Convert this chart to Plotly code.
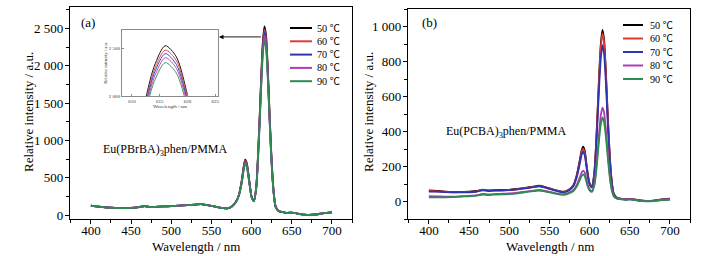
import plotly.graph_objects as go

W, H = 709, 256

# ---------------- data ----------------
wavelength = [400, 410, 420, 430, 440, 450, 460, 467, 474, 480, 490, 500, 510, 520, 530, 537, 545, 555,
              565, 570, 575, 580, 584, 588, 590, 592, 594, 596, 598, 600, 603, 606, 608, 610, 612, 614,
              616, 618, 620, 622, 624, 626, 628, 630, 634, 640, 645, 650, 655, 660, 670, 680, 690, 700]

temps = ["50 ℃", "60 ℃", "70 ℃", "80 ℃", "90 ℃"]
colors = ["#000000", "#e53935", "#2f35b0", "#b03ab8", "#2e8b4e"]

base_a = [130, 115, 104, 98, 96, 100, 110, 122, 108, 112, 118, 122, 128, 135, 143, 150, 135, 115,
          95, 92, 115, 170, 260]
tail_a = [55, 40, 32, 35, 28, 15, 5, 10, 28, 40]

a_50 = base_a + [480, 640, 745, 700, 560, 390, 250, 190, 400, 800, 1300, 1850, 2310, 2527, 2410, 2010, 1470, 950, 530, 260, 115] + tail_a
a_60 = base_a + [470, 628, 730, 688, 550, 385, 248, 190, 395, 790, 1280, 1820, 2270, 2482, 2370, 1975, 1445, 935, 520, 255, 113] + tail_a
a_70 = base_a + [462, 617, 715, 675, 540, 380, 246, 189, 390, 775, 1260, 1790, 2235, 2444, 2330, 1945, 1420, 920, 515, 252, 112] + tail_a
a_80 = base_a + [455, 608, 705, 665, 532, 375, 244, 188, 385, 765, 1240, 1760, 2195, 2402, 2290, 1910, 1400, 905, 505, 248, 110] + tail_a
a_90 = base_a + [445, 595, 690, 650, 520, 368, 240, 186, 378, 745, 1210, 1720, 2150, 2350, 2240, 1870, 1370, 885, 495, 243, 108] + tail_a

b_50 = [63, 60, 57, 55, 55, 56, 60, 68, 63, 65, 66, 67, 72, 78, 85, 90, 82, 68, 57, 58, 70, 95, 150, 240, 290, 314, 290, 220, 150, 105, 85,
        170, 320, 520, 730, 900, 981, 930, 770, 560, 360, 200, 100, 45, 22, 15, 13, 15, 12, 8, 3, 5, 12, 16]
b_60 = [60, 58, 56, 53, 54, 55, 58, 66, 61, 63, 64, 66, 70, 76, 83, 88, 80, 66, 56, 57, 68, 92, 145, 230, 278, 300, 278, 212, 145, 102, 83,
        166, 310, 508, 715, 880, 960, 910, 755, 548, 352, 196, 98, 44, 22, 15, 13, 15, 12, 8, 3, 5, 12, 15]
b_70 = [57, 56, 54, 52, 52, 53, 57, 64, 60, 62, 63, 65, 69, 75, 82, 87, 79, 65, 54, 55, 66, 88, 138, 220, 265, 285, 265, 202, 140, 98, 80,
        155, 290, 472, 665, 820, 893, 846, 705, 512, 330, 185, 92, 42, 20, 14, 12, 14, 11, 7, 2, 4, 11, 14]
b_80 = [30, 29, 28, 28, 30, 32, 36, 44, 40, 42, 44, 46, 50, 56, 62, 66, 60, 50, 42, 43, 52, 66, 95, 140, 165, 177, 165, 128, 92, 70, 60,
        100, 178, 285, 400, 493, 537, 510, 428, 315, 205, 118, 62, 32, 17, 13, 11, 13, 10, 6, 2, 4, 10, 12]
b_90 = [24, 24, 24, 25, 28, 30, 34, 40, 37, 39, 41, 43, 47, 53, 59, 63, 57, 47, 39, 40, 48, 60, 85, 125, 145, 155, 145, 113, 82, 64, 55,
        92, 160, 258, 360, 442, 480, 456, 385, 285, 187, 108, 58, 30, 16, 12, 10, 12, 9, 5, 1, 3, 8, 10]

series_a = [a_50, a_60, a_70, a_80, a_90]
series_b = [b_50, b_60, b_70, b_80, b_90]

x_ticks = [400, 450, 500, 550, 600, 650, 700]
ya_ticks = [0, 500, 1000, 1500, 2000, 2500]
ya_text = ["0", "500", "1 000", "1 500", "2 000", "2 500"]
yb_ticks = [0, 200, 400, 600, 800, 1000]
yb_text = ["0", "200", "400", "600", "800", "1 000"]
inset_x_ticks = [610, 615, 620, 625]
inset_y_ticks = [2000, 2500]
inset_y_text = ["2 000", "2 500"]

# ---------------- helpers ----------------
def px(x):
    return x / W


def py(y):
    return 1 - y / H

FONT = "Liberation Serif, 'Noto Sans CJK SC'"

fig = go.Figure()
for name, col, ya in zip(temps, colors, series_a):
    fig.add_trace(go.Scatter(x=wavelength, y=ya, mode="lines", name=name, showlegend=False,
                             line=dict(color=col, width=1.8, shape="spline", smoothing=0.6),
                             xaxis="x", yaxis="y"))
for name, col, yb in zip(temps, colors, series_b):
    fig.add_trace(go.Scatter(x=wavelength, y=yb, mode="lines", name=name, showlegend=False,
                             line=dict(color=col, width=1.8, shape="spline", smoothing=0.6),
                             xaxis="x2", yaxis="y2"))
for name, col, ya in zip(temps, colors, series_a):
    fig.add_trace(go.Scatter(x=wavelength, y=ya, mode="lines", name=name, showlegend=False,
                             line=dict(color=col, width=0.9, shape="spline", smoothing=0.8),
                             xaxis="x3", yaxis="y3"))

axis_common = dict(showline=True, linecolor="black", linewidth=1.2, mirror=True, showgrid=False,
                   zeroline=False, ticks="outside", ticklen=4, tickwidth=1, tickcolor="black", automargin=False,
                   tickfont=dict(family=FONT, size=13, color="black"))
minor_x = dict(dtick=25, ticks="outside", ticklen=2.5, tickcolor="black", showgrid=False)
inset_common = dict(showline=True, linecolor="#8a8a8a", linewidth=1, mirror=True, showgrid=False, zeroline=False,
                    ticks="inside", ticklen=2, tickcolor="#8a8a8a", automargin=False,
                    tickfont=dict(family=FONT, size=5, color="#333"))

fig.update_layout(
    template="none",
    width=W, height=H, margin=dict(l=0, r=0, t=0, b=0, autoexpand=False),
    paper_bgcolor="white", plot_bgcolor="white", showlegend=False,
    font=dict(family=FONT, color="black"),
    xaxis=dict(domain=[px(70), px(352)], range=[374, 725], anchor="y", tickvals=x_ticks,
               minor=minor_x, ticklabelstandoff=-5, **axis_common),
    yaxis=dict(domain=[py(219), py(7)], range=[-50, 2785], anchor="x", tickvals=ya_ticks, ticktext=ya_text,
               minor=dict(dtick=250, tick0=0, ticks="outside", ticklen=2.5, tickcolor="black", showgrid=False),
               ticklabelstandoff=-1, **axis_common),
    xaxis2=dict(domain=[px(408), px(690)], range=[374, 725], anchor="y2", tickvals=x_ticks,
                minor=minor_x, ticklabelstandoff=-5, **axis_common),
    yaxis2=dict(domain=[py(219), py(9)], range=[-100, 1100], anchor="x2", tickvals=yb_ticks, ticktext=yb_text,
                minor=dict(dtick=100, tick0=0, ticks="outside", ticklen=2.5, tickcolor="black", showgrid=False),
                ticklabelstandoff=-1, **axis_common),
    xaxis3=dict(domain=[px(122), px(218)], range=[608.2, 625.5], anchor="y3", tickvals=inset_x_ticks,
                title=dict(text="Wavelength / nm", font=dict(family=FONT, size=5, color="#333"), standoff=0),
                **inset_common),
    yaxis3=dict(domain=[py(96), py(30)], range=[2000, 2692], anchor="x3", tickvals=inset_y_ticks,
                ticktext=inset_y_text,
                title=dict(text="Relative intensity / a.u.", font=dict(family=FONT, size=4.5, color="#333"), standoff=1),
                **inset_common),
)

ann = []
shapes = []
# manual legends
for i, (name, col) in enumerate(zip(temps, colors)):
    ya_ = 28 + i * 13.3
    shapes.append(dict(type="line", xref="paper", yref="paper", x0=px(290), x1=px(312), y0=py(ya_), y1=py(ya_),
                       line=dict(color=col, width=2)))
    ann.append(dict(xref="paper", yref="paper", x=px(315), y=py(ya_), xanchor="left", yanchor="middle",
                    text=name, showarrow=False, font=dict(family=FONT, size=10.2, color="black")))
    yb_ = 25 + i * 13.5
    shapes.append(dict(type="line", xref="paper", yref="paper", x0=px(623), x1=px(643), y0=py(yb_), y1=py(yb_),
                       line=dict(color=col, width=2)))
    ann.append(dict(xref="paper", yref="paper", x=px(648), y=py(yb_), xanchor="left", yanchor="middle",
                    text=name, showarrow=False, font=dict(family=FONT, size=10.2, color="black")))

# panel labels and compound names
ann += [
    dict(xref="paper", yref="paper", x=px(79), y=py(22), xanchor="left", yanchor="middle", text="(a)",
         showarrow=False, font=dict(family=FONT, size=13, color="black")),
    dict(xref="paper", yref="paper", x=px(420), y=py(22), xanchor="left", yanchor="middle", text="(b)",
         showarrow=False, font=dict(family=FONT, size=13, color="black")),
    dict(xref="paper", yref="paper", x=px(101), y=py(150), xanchor="left", yanchor="middle",
         text="Eu(PBrBA)<sub>3</sub>phen/PMMA", showarrow=False, font=dict(family=FONT, size=12, color="black")),
    dict(xref="paper", yref="paper", x=px(444), y=py(132), xanchor="left", yanchor="middle",
         text="Eu(PCBA)<sub>3</sub>phen/PMMA", showarrow=False, font=dict(family=FONT, size=12, color="black")),
    # axis titles
    dict(xref="paper", yref="paper", x=px(196), y=py(246), xanchor="center", yanchor="middle",
         text="Wavelength / nm", showarrow=False, font=dict(family=FONT, size=13, color="black")),
    dict(xref="paper", yref="paper", x=px(550), y=py(246), xanchor="center", yanchor="middle",
         text="Wavelength / nm", showarrow=False, font=dict(family=FONT, size=13, color="black")),
    dict(xref="paper", yref="paper", x=px(28), y=py(112), xanchor="center", yanchor="middle", textangle=-90,
         text="Relative intensity / a.u.", showarrow=False, font=dict(family=FONT, size=13, color="black")),
    dict(xref="paper", yref="paper", x=px(368), y=py(112), xanchor="center", yanchor="middle", textangle=-90,
         text="Relative intensity / a.u.", showarrow=False, font=dict(family=FONT, size=13, color="black")),
    # arrow from the peak to the inset
    dict(xref="x", yref="y", x=559.5, y=2385, axref="x", ayref="y", ax=613.5, ay=2385, text="",
         showarrow=True, arrowhead=2, arrowsize=1, arrowwidth=0.9, arrowcolor="black"),
]

fig.update_layout(annotations=ann, shapes=shapes)
fig.write_html("out.html", config={"displayModeBar": False},
               post_script="document.body.style.margin='0';document.body.style.overflow='hidden';")
